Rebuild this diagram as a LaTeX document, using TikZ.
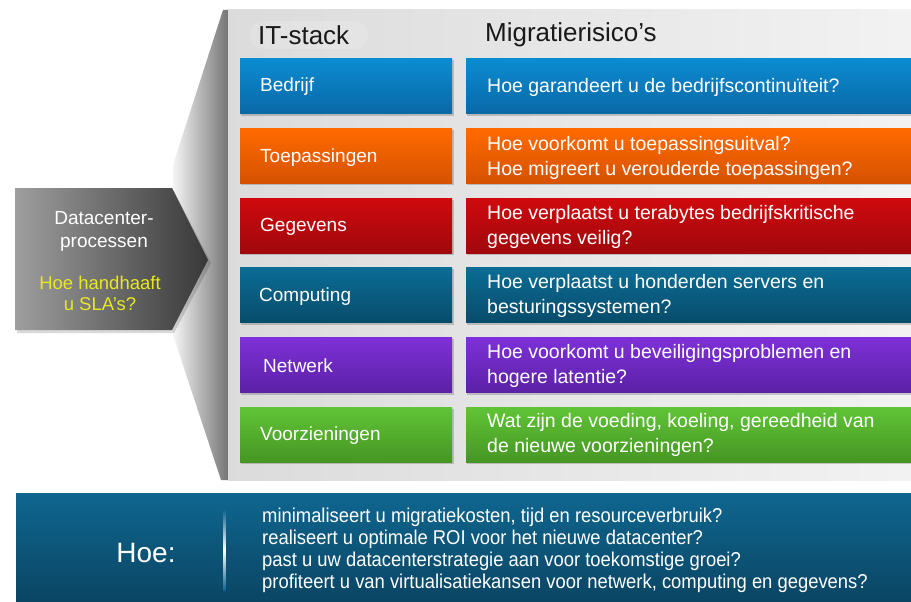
\documentclass[tikz,border=0pt]{standalone}
\usepackage{fontspec}
\setmainfont{Liberation Sans}
\newfontfamily\narrowfont[FakeStretch=0.92]{Liberation Sans}
\usetikzlibrary{shapes.geometric}
\definecolor{bluetop}{HTML}{0B8CD2}\definecolor{bluebot}{HTML}{0A68A6}
\definecolor{orgtop}{HTML}{FF6A00}\definecolor{orgbot}{HTML}{D65200}
\definecolor{redtop}{HTML}{CF0A0E}\definecolor{redbot}{HTML}{A0080C}
\definecolor{teltop}{HTML}{0B6C95}\definecolor{telbot}{HTML}{084C6B}
\definecolor{purtop}{HTML}{7E30D8}\definecolor{purbot}{HTML}{5C21A6}
\definecolor{grntop}{HTML}{60C436}\definecolor{grnbot}{HTML}{469624}
\definecolor{bartop}{HTML}{0F6690}\definecolor{barbot}{HTML}{0A4563}
\definecolor{hoeyellow}{HTML}{E8E820}
\tikzset{
  rowbox/.style={rectangle, inner sep=0pt, minimum height=55pt},
  leftbox/.style={rowbox, minimum width=212pt},
  rightbox/.style={rowbox, minimum width=445pt},
  rowlabel/.style={anchor=west, text=white, inner sep=0pt, font=\fontsize{19}{25}\selectfont},
  rowq/.style={anchor=west, text=white, inner sep=0pt, align=left, font=\fontsize{19.5}{25}\selectfont},
  header/.style={anchor=west, inner sep=0pt, text=black!90, font=\fontsize{26}{30}\selectfont},
  shadowbox/.style={fill=black, opacity=0.18},
}
\begin{document}
\begin{tikzpicture}[x=1pt,y=-1pt]
\useasboundingbox (0,0) rectangle (911,602);
\fill[white] (0,0) rectangle (911,602);
% panel side face
\shade[left color=white!96!black, right color=black!55] (223,10) -- (173,165) -- (173,335) -- (221,480) -- (229,480) -- (229,10) -- cycle;
% panel front face
\shade[left color=black!14, right color=black!5] (228,10) rectangle (911,480);
\fill[white, opacity=0.16, rounded corners=13pt] (250,21) rectangle (368,49);
% headers
\node[header] (hit) at (258,35) {IT-stack};
\node[header] (hmig) at (485,35) {Migratierisico’s};
% rows
\foreach \yy/\ct/\cb/\nm in {86/bluetop/bluebot/a,155.5/orgtop/orgbot/b,225.5/redtop/redbot/c,295/teltop/telbot/d,365/purtop/purbot/e,434.5/grntop/grnbot/f}{
  \fill[shadowbox] (241,\yy-26) rectangle (454,\yy+29.5);
  \fill[shadowbox] (467,\yy-26) rectangle (911,\yy+29.5);
  \node[leftbox, top color=\ct, bottom color=\cb] (l\nm) at (346,\yy) {};
  \node[rightbox, top color=\ct, bottom color=\cb] (r\nm) at (688.5,\yy) {};
}
\node[rowlabel] (ta) at (260,87) {Bedrijf};
\node[rowlabel] (tb) at (260,158) {Toepassingen};
\node[rowlabel] (tc) at (260,227) {Gegevens};
\node[rowlabel] (td) at (259,297) {Computing};
\node[rowlabel] (te) at (263,366) {Netwerk};
\node[rowlabel] (tf) at (260,436) {Voorzieningen};
\node[rowq] (qa) at (487,87) {Hoe garandeert u de bedrijfscontinuïteit?};
\node[rowq] (qb) at (487,157.5) {Hoe voorkomt u toepassingsuitval?\\Hoe migreert u verouderde toepassingen?};
\node[rowq] (qc) at (487,226.5) {Hoe verplaatst u terabytes bedrijfskritische\\gegevens veilig?};
\node[rowq] (qd) at (487,296) {Hoe verplaatst u honderden servers en\\besturingssystemen?};
\node[rowq] (qe) at (487,366) {Hoe voorkomt u beveiligingsproblemen en\\hogere latentie?};
\node[rowq] (qf) at (487,435) {Wat zijn de voeding, koeling, gereedheid van\\de nieuwe voorzieningen?};
% arrow (Datacenterprocessen)
\fill[black, opacity=0.15] (17,191) -- (174,191) -- (211,263) -- (174,333) -- (17,333) -- cycle;
\shade[left color=black!38, right color=black!78] (15,188) -- (172,188) -- (208,260) -- (172,330) -- (15,330) -- cycle;
\node[inner sep=0pt, text=white, align=center, font=\fontsize{19}{23}\selectfont] (dc) at (104,231) {Datacenter-\\processen};
\node[inner sep=0pt, text=hoeyellow, align=center, font=\fontsize{18.5}{21}\selectfont] (sla) at (100,293) {Hoe handhaaft\\u SLA’s?};
% bottom bar
\shade[top color=bartop, bottom color=barbot] (16,493) rectangle (911,602);
\node[inner sep=0pt, text=white, font=\fontsize{28}{30}\selectfont] (hoe) at (146,553) {Hoe:};
\shade[top color=bartop, bottom color=bartop, middle color=white] (223,510) rectangle (225.5,590);
\node[anchor=west, inner sep=0pt, text=white, align=left, font=\narrowfont\fontsize{20}{22}\selectfont] (list) at (262,550) {minimaliseert u migratiekosten, tijd en resourceverbruik?\\realiseert u optimale ROI voor het nieuwe datacenter?\\past u uw datacenterstrategie aan voor toekomstige groei?\\profiteert u van virtualisatiekansen voor netwerk, computing en gegevens?};
\end{tikzpicture}
\end{document}
